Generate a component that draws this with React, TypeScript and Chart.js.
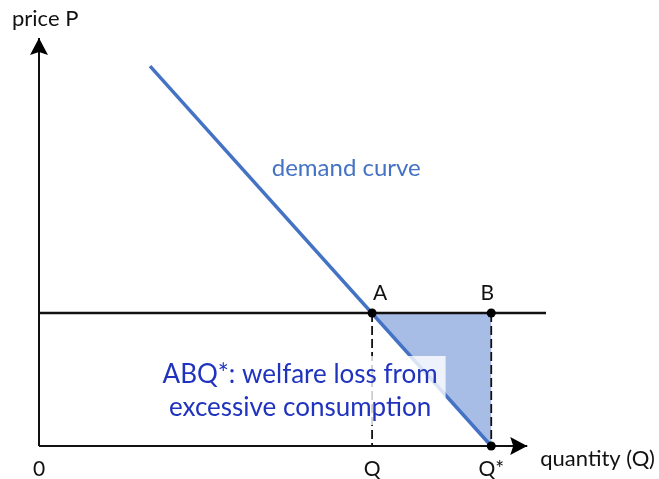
import React, { useEffect, useRef } from 'react';
import { Chart, registerables } from 'chart.js';

Chart.register(...registerables);

// ---- data (abstract units: quantity on x, price on y) ----
const X_MAX = 10;
const Y_MAX = 10;
const quantityQ = 6.57;
const quantityQStar = 8.92;
const priceLevel = 3.26;
const demandX = [2.19, 8.92];
const demandY = [9.31, 0];
const priceLineX = [0, 10];
const xAxisEnd = 9.63;
const yAxisEnd = 10;
const tickLabels = ['0', 'Q', 'Q*'];
const tickValues = [0, quantityQ, quantityQStar];
const pointLabels = ['A', 'B'];
const pointXs = [quantityQ, quantityQStar];
const xAxisTitle = 'quantity (Q)';
const yAxisTitle = 'price P';
const curveLabel = 'demand curve';
const lossLabel = ['ABQ*: welfare loss from', 'excessive consumption'];

const FONT = 'Lato, "Open Sans", sans-serif';
const DEMAND_COLOR = '#4472C4';
const LOSS_COLOR = '#A8BDE6';
const TEXT_BLUE = '#1F33BE';

const annotate = {
  id: 'annotate',
  afterDatasetsDraw(chart: any) {
    const { ctx } = chart;
    const xs = chart.scales.x;
    const ys = chart.scales.y;
    const px = (v: number) => xs.getPixelForValue(v);
    const py = (v: number) => ys.getPixelForValue(v);
    ctx.save();

    // arrowheads
    ctx.fillStyle = '#000';
    const ox = px(0);
    const oy = py(0);
    const ty = py(yAxisEnd);
    ctx.beginPath();
    ctx.moveTo(ox, ty);
    ctx.lineTo(ox - 9, ty + 17);
    ctx.lineTo(ox, ty + 14);
    ctx.lineTo(ox + 9, ty + 17);
    ctx.closePath();
    ctx.fill();
    const tx = px(xAxisEnd);
    ctx.beginPath();
    ctx.moveTo(tx, oy);
    ctx.lineTo(tx - 17, oy - 9);
    ctx.lineTo(tx - 14, oy);
    ctx.lineTo(tx - 17, oy + 9);
    ctx.closePath();
    ctx.fill();

    // loss label with translucent box
    ctx.font = `26px ${FONT}`;
    ctx.textAlign = 'center';
    ctx.textBaseline = 'middle';
    const cx = px(5.15);
    const l1 = py(1.74);
    const l2 = py(0.93);
    const w = Math.max(...lossLabel.map((t) => ctx.measureText(t).width));
    ctx.fillStyle = 'rgba(255,255,255,0.8)';
    ctx.fillRect(cx - w / 2 - 8, l1 - 19, w + 16, l2 - l1 + 36);
    ctx.fillStyle = TEXT_BLUE;
    ctx.fillText(lossLabel[0], cx, l1);
    ctx.fillText(lossLabel[1], cx, l2);

    // demand curve label
    ctx.font = `24px ${FONT}`;
    ctx.fillStyle = DEMAND_COLOR;
    ctx.fillText(curveLabel, px(6.06), py(6.81));

    // point labels
    ctx.font = `21px ${FONT}`;
    ctx.fillStyle = '#111';
    ctx.fillText(pointLabels[0], px(pointXs[0]) + 8, py(priceLevel) - 20);
    ctx.fillText(pointLabels[1], px(pointXs[1]) - 4, py(priceLevel) - 20);

    // tick labels
    tickLabels.forEach((t, i) => {
      ctx.fillText(t, px(tickValues[i]), oy + 23);
    });

    // axis titles
    ctx.font = `22px ${FONT}`;
    ctx.textAlign = 'left';
    ctx.fillText(xAxisTitle, tx + 13, oy + 13);
    ctx.fillText(yAxisTitle, ox - 27, ty - 19);

    ctx.restore();
  },
};

export default function App() {
  const ref = useRef<HTMLCanvasElement | null>(null);
  useEffect(() => {
    if (!ref.current) return;
    const line = (data: any[], color: string, width: number, extra: any = {}) => ({
      data,
      borderColor: color,
      borderWidth: width,
      pointRadius: 0,
      showLine: true,
      fill: false,
      clip: false,
      ...extra,
    });
    const chart = new Chart(ref.current, {
      type: 'scatter',
      data: {
        datasets: [
          {
            data: [
              { x: quantityQ, y: priceLevel },
              { x: quantityQStar, y: priceLevel },
              { x: quantityQStar, y: 0 },
            ],
            showLine: false,
            pointRadius: 4.5,
            pointBackgroundColor: '#000',
            pointBorderWidth: 0,
            clip: false,
          } as any,
          line(
            demandX.map((x, i) => ({ x, y: demandY[i] })),
            DEMAND_COLOR,
            3.5,
          ),
          line(
            priceLineX.map((x) => ({ x, y: priceLevel })),
            '#111',
            2.5,
          ),
          line(
            [
              { x: 0, y: 0 },
              { x: xAxisEnd, y: 0 },
            ],
            '#111',
            2,
          ),
          line(
            [
              { x: 0, y: 0 },
              { x: 0, y: yAxisEnd },
            ],
            '#111',
            2,
          ),
          line(
            [
              { x: quantityQ, y: priceLevel },
              { x: quantityQ, y: 0 },
            ],
            '#111',
            1.8,
            { borderDash: [9, 4] },
          ),
          line(
            [
              { x: quantityQStar, y: priceLevel },
              { x: quantityQStar, y: 0 },
            ],
            '#111',
            1.8,
            { borderDash: [9, 4] },
          ),
          line(
            [
              { x: quantityQ, y: priceLevel },
              { x: quantityQStar, y: priceLevel },
              { x: quantityQStar, y: 0 },
              { x: quantityQ, y: priceLevel },
            ],
            'rgba(0,0,0,0)',
            0,
            { fill: 'shape', backgroundColor: LOSS_COLOR },
          ),
        ],
      },
      options: {
        responsive: false,
        animation: false,
        events: [],
        layout: { padding: { left: 39, right: 113, top: 38, bottom: 33 } },
        scales: {
          x: { type: 'linear', min: 0, max: X_MAX, display: false },
          y: { type: 'linear', min: 0, max: Y_MAX, display: false },
        },
        plugins: {
          legend: { display: false },
          tooltip: { enabled: false },
          title: { display: false },
        },
      },
      plugins: [annotate],
    });
    return () => chart.destroy();
  }, []);
  return (
    <div style={{ position: 'absolute', left: 0, top: 0, width: 659, height: 479, background: '#fff' }}>
      <canvas ref={ref} width={659} height={479} style={{ display: 'block' }} />
    </div>
  );
}
